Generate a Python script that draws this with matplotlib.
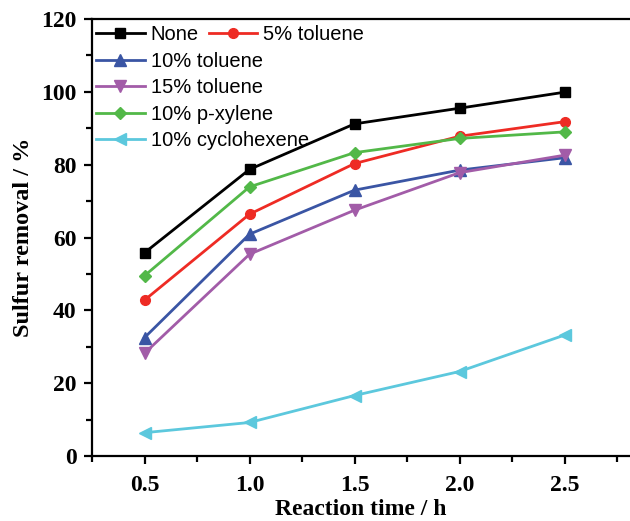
import matplotlib
matplotlib.use('Agg')
import matplotlib.pyplot as plt
from matplotlib.ticker import MultipleLocator

time_h = [0.5, 1.0, 1.5, 2.0, 2.5]

none_vals = [55.8, 78.7, 91.2, 95.5, 99.9]
tol5_vals = [42.8, 66.4, 80.3, 87.8, 91.8]
tol10_vals = [32.5, 60.9, 73.0, 78.5, 81.9]
tol15_vals = [28.2, 55.4, 67.5, 77.8, 82.6]
pxy10_vals = [49.5, 73.9, 83.3, 87.2, 89.0]
cyc10_vals = [6.4, 9.2, 16.6, 23.2, 33.2]

labels = ['None', '5% toluene', '10% toluene', '15% toluene',
          '10% p-xylene', '10% cyclohexene']

fig = plt.figure(figsize=(6.3, 5.21), dpi=100)
ax = fig.add_axes([92 / 630, 1 - 456 / 521, 538 / 630, 437 / 521])

lw = 2.0
ms = 7
h1, = ax.plot(time_h, none_vals, '-s', color='black', lw=lw, ms=ms, label=labels[0])
h2, = ax.plot(time_h, tol5_vals, '-o', color='#ee2b24', lw=lw, ms=ms, label=labels[1])
h3, = ax.plot(time_h, tol10_vals, '-^', color='#3a55a4', lw=lw, ms=ms + 1, label=labels[2])
h4, = ax.plot(time_h, tol15_vals, '-v', color='#a25ca8', lw=lw, ms=ms + 1, label=labels[3])
h5, = ax.plot(time_h, pxy10_vals, '-D', color='#52b848', lw=lw, ms=ms - 1, label=labels[4])
h6, = ax.plot(time_h, cyc10_vals, '-<', color='#5cc8dd', lw=lw, ms=ms + 1, label=labels[5])

ax.set_xlim(0.25, 0.25 + 538 / 210)
ax.set_ylim(0, 120)
ax.xaxis.set_major_locator(MultipleLocator(0.5))
ax.xaxis.set_minor_locator(MultipleLocator(0.25))
ax.yaxis.set_major_locator(MultipleLocator(20))
ax.yaxis.set_minor_locator(MultipleLocator(10))

ax.spines['right'].set_visible(False)
for s in ['left', 'bottom', 'top']:
    ax.spines[s].set_linewidth(1.6)
ax.tick_params(which='both', direction='out', width=1.6, top=False, right=False)
ax.tick_params(which='major', length=6)
ax.tick_params(which='minor', length=4)
ax.tick_params(axis='x', which='major', pad=8)
ax.tick_params(axis='y', which='major', pad=5)

ax.set_xticks(time_h)
ax.set_xticklabels(['0.5', '1.0', '1.5', '2.0', '2.5'])
for t in ax.get_xticklabels() + ax.get_yticklabels():
    t.set_fontfamily('Liberation Serif')
    t.set_fontweight('bold')
    t.set_fontsize(17)

ax.set_xlabel('Reaction time / h', fontfamily='Liberation Serif', fontweight='bold',
              fontsize=17, labelpad=2)
ax.set_ylabel('Sulfur removal / %', fontfamily='Liberation Serif', fontweight='bold',
              fontsize=17.5, labelpad=5)

leg_kw = dict(frameon=False, prop={'family': 'Liberation Sans', 'size': 14.5},
              handlelength=2.4, handletextpad=0.3, labelspacing=0.36,
              borderpad=0, borderaxespad=0, loc='upper left')
leg1 = ax.legend(handles=[h1, h2], ncol=2, columnspacing=0.5,
                 bbox_to_anchor=(0.008, 0.987), **leg_kw)
ax.add_artist(leg1)
ax.legend(handles=[h3, h4, h5, h6], bbox_to_anchor=(0.008, 0.924), **leg_kw)

fig.savefig('out.png', dpi=100)
